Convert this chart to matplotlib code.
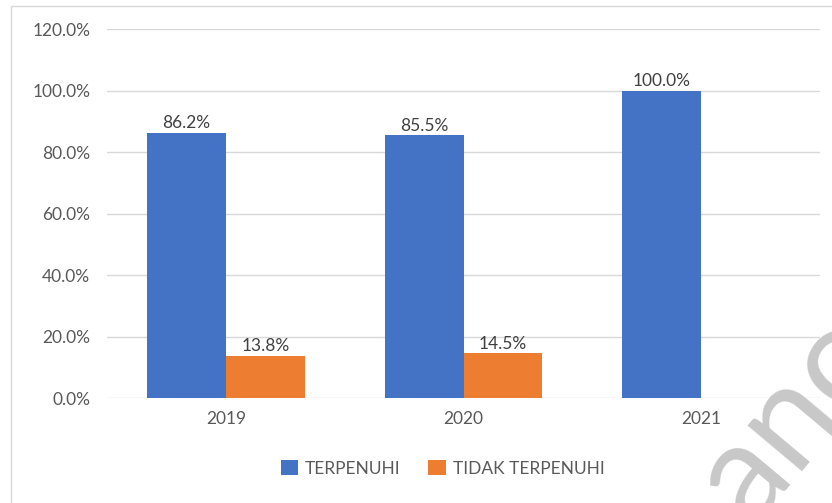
import matplotlib.pyplot as plt
import numpy as np
from matplotlib.patches import Rectangle

years = ['2019', '2020', '2021']
terpenuhi = [86.2, 85.5, 100.0]
tidak_terpenuhi = [13.8, 14.5, 0.0]
series_names = ['TERPENUHI', 'TIDAK TERPENUHI']
y_ticks = [0, 20, 40, 60, 80, 100, 120]

BLUE = '#4472C4'
ORANGE = '#ED7D31'
TEXT = '#595959'

plt.rcParams['font.family'] = ['Lato', 'DejaVu Sans']

fig = plt.figure(figsize=(8.32, 5.03), dpi=100)
ax = fig.add_axes([0.1286, 0.2087, 0.857, 0.7336])

# chart frame like the excel chart area
fig.patches.append(Rectangle((11 / 832, -0.1), 1.2, 1 - 6 / 503 + 0.1, transform=fig.transFigure,
                             fill=False, edgecolor='#d9d9d9', lw=1))

x = np.arange(len(years))
w = 0.332
b1 = ax.bar(x - w / 2, terpenuhi, w, color=BLUE, label=series_names[0], zorder=3)
b2 = ax.bar(x + w / 2, tidak_terpenuhi, w, color=ORANGE, label=series_names[1], zorder=3)

for bars, vals in ((b1, terpenuhi), (b2, tidak_terpenuhi)):
    for r, v in zip(bars, vals):
        if v > 0:
            ax.text(r.get_x() + r.get_width() / 2, v + 0.5, f'{v:.1f}%', ha='center', va='bottom',
                    fontsize=12.5, color='#404040')

ax.set_xlim(-0.5, 2.5)
ax.set_ylim(0, 120)
ax.set_yticks(y_ticks)
ax.set_yticklabels([f'{t:.1f}%' for t in y_ticks])
ax.set_xticks(x)
ax.set_xticklabels(years)
ax.tick_params(axis='both', length=0, labelsize=12.5, colors=TEXT)
ax.tick_params(axis='y', pad=12)
ax.tick_params(axis='x', pad=9)
ax.grid(axis='y', color='#d9d9d9', lw=1, zorder=0)
for s in ax.spines.values():
    s.set_visible(False)

fig.legend(loc='center', bbox_to_anchor=(0.532, 0.069), ncol=2, frameon=False, fontsize=12.5,
           handlelength=1.0, handleheight=1.0, handletextpad=0.4, columnspacing=1.6,
           labelcolor=TEXT)

# watermark from the source page
fig.text(672 / 832, -40 / 503, 'ano', rotation=50, fontsize=100, color='#c8c8c8',
         ha='left', va='bottom', zorder=0)

fig.savefig('out.png', dpi=100)
